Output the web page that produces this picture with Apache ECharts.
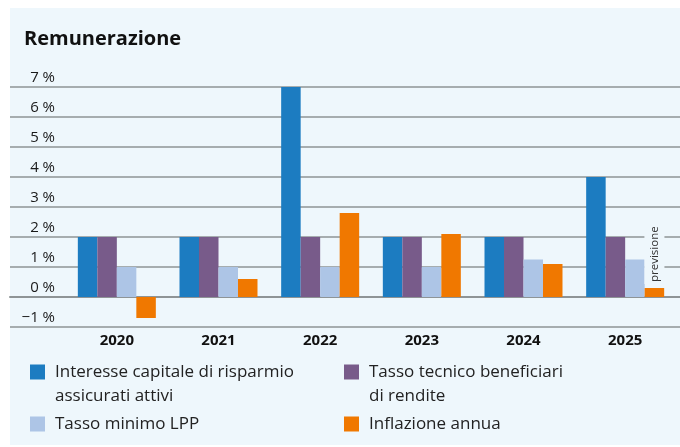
<!DOCTYPE html>
<html>
<head>
<meta charset="utf-8">
<script src="https://cdn.jsdelivr.net/npm/echarts@6/dist/echarts.min.js"></script>
<style>
  html, body { margin: 0; padding: 0; background: #fff; }
  #panel { position: absolute; left: 10px; top: 8px; width: 670px; height: 437px; background: #eef7fc; }
  #main { position: absolute; left: 0; top: 0; width: 680px; height: 447px; }
</style>
</head>
<body>
<div id="panel"></div>
<div id="main"></div>
<script>
// dati
var anni = ['2020', '2021', '2022', '2023', '2024', '2025']
var interesseCapitale = [2, 2, 7, 2, 2, 4]
var tassoTecnico = [2, 2, 2, 2, 2, 2]
var tassoMinimo = [1, 1, 1, 1, 1.25, 1.25]
var inflazione = [-0.7, 0.6, 2.8, 2.1, 1.1, 0.3]
var tickValori = [-1, 0, 1, 2, 3, 4, 5, 6, 7]
var tickEtichette = ['\u22121 %', '0 %', '1 %', '2 %', '3 %', '4 %', '5 %', '6 %', '7 %']
var notaUltimo = 'previsione'

var nomi = [
  'Interesse capitale di risparmio\nassicurati attivi',
  'Tasso tecnico beneficiari\ndi rendite',
  'Tasso minimo LPP',
  'Inflazione annua'
]
var colori = ['#1c7cc1', '#785b8a', '#adc5e6', '#f07800']
var sfondo = '#eef7fc'
var font = '"Open Sans", "Noto Sans", sans-serif'

const myChart = echarts.init(document.getElementById('main'))

var inflData = inflazione.map(function (v, i) {
  if (i !== inflazione.length - 1) return v
  return {
    value: v,
    label: {
      show: true,
      position: 'top',
      rotate: 90,
      align: 'left',
      verticalAlign: 'middle',
      distance: 4,
      formatter: notaUltimo,
      fontFamily: font,
      fontSize: 11.5,
      color: '#333',
      backgroundColor: sfondo,
      padding: [4, 2, 4, 2]
    }
  }
})

// riga vuota davanti: la prima riga resta allineata al quadratino
function legenda(nome, left, top) {
  return {
    data: [nome],
    left: left,
    top: top,
    padding: 0,
    icon: 'rect',
    itemWidth: 15,
    itemHeight: 15,
    selectedMode: false,
    formatter: function (n) {
      return n.indexOf('\n') >= 0 ? '\n' + n : n
    },
    textStyle: {
      fontFamily: font,
      fontSize: 17,
      lineHeight: 24,
      color: '#222',
      padding: [0, 0, 0, 5]
    }
  }
}

var barSeries = [interesseCapitale, tassoTecnico, tassoMinimo, inflData].map(function (d, i) {
  return {
    name: nomi[i],
    type: 'bar',
    xAxisIndex: 0,
    yAxisIndex: 0,
    barWidth: 19.5,
    barGap: '0%',
    itemStyle: { color: colori[i] },
    data: d
  }
})

const option = {
  animation: false,
  title: {
    text: 'Remunerazione',
    left: 24,
    top: 27,
    padding: 0,
    textStyle: { fontFamily: font, fontSize: 20, fontWeight: 'bold', color: '#111', lineHeight: 24 }
  },
  legend: [
    legenda(nomi[0], 30, 336),
    legenda(nomi[1], 344, 336),
    legenda(nomi[2], 30, 412),
    legenda(nomi[3], 344, 412)
  ],
  grid: [
    { left: 66, right: 4, top: 87, bottom: 120 },
    { left: 10, right: 0, top: 87, bottom: 120 }
  ],
  xAxis: [
    {
      gridIndex: 0,
      type: 'category',
      data: anni,
      axisLine: { show: false },
      axisTick: { show: false },
      axisLabel: { fontFamily: font, fontSize: 15, fontWeight: 'bold', color: '#111', margin: 6 }
    },
    {
      gridIndex: 1,
      type: 'value',
      min: 0,
      max: 1,
      axisLine: { show: true, lineStyle: { color: '#8e9496', width: 2 } },
      axisTick: { show: false },
      axisLabel: { show: false },
      splitLine: { show: false }
    }
  ],
  yAxis: [
    {
      gridIndex: 0,
      type: 'value',
      min: -1,
      max: 7,
      interval: 1,
      show: false
    },
    {
      gridIndex: 1,
      type: 'value',
      min: -1,
      max: 7,
      interval: 1,
      axisLine: { show: false },
      axisTick: { show: false },
      splitLine: { lineStyle: { color: '#8e9496', width: 1.5 } },
      axisLabel: {
        inside: true,
        margin: 45,
        align: 'right',
        verticalAlign: 'bottom',
        lineHeight: 15,
        padding: [0, 0, 2, 0],
        fontFamily: font,
        fontSize: 15,
        color: '#1a1a1a',
        formatter: function (v) {
          return tickEtichette[tickValori.indexOf(v)]
        }
      }
    }
  ],
  series: barSeries
}
myChart.setOption(option)
</script>
</body>
</html>
